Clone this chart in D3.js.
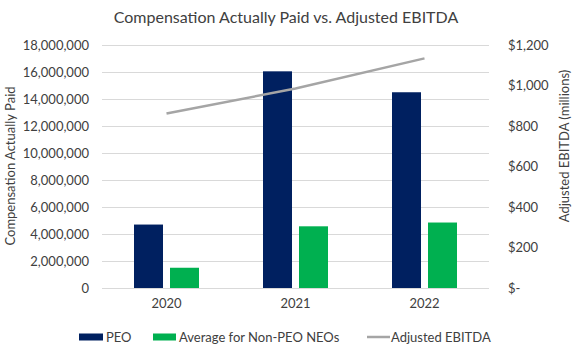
<!DOCTYPE html>
<html lang="en">
<head>
<meta charset="UTF-8">
<title>Compensation Actually Paid vs. Adjusted EBITDA</title>
<script src="https://d3js.org/d3.v7.min.js"></script>
<style>
  body { margin: 0; background: #fff; }
  svg text { font-family: Lato, "Open Sans", sans-serif; fill: #404040; }
</style>
</head>
<body>
<svg id="chart" width="576" height="345"></svg>
<script>
// chart data
const years = ["2020", "2021", "2022"];
const peoValues = [4700000, 16050000, 14500000];
const neoValues = [1500000, 4570000, 4850000];
const ebitdaValues = [862, 985, 1134];
const leftTicks = [0, 2000000, 4000000, 6000000, 8000000, 10000000, 12000000, 14000000, 16000000, 18000000];
const rightTicks = [0, 200, 400, 600, 800, 1000, 1200];

const navy = "#002060", green = "#00b050", grey = "#a5a5a5";

const svg = d3.select("#chart");
const margin = { top: 45, right: 87, bottom: 57, left: 102 };
const width = 576 - margin.left - margin.right;
const height = 345 - margin.top - margin.bottom;

const g = svg.append("g").attr("transform", `translate(${margin.left},${margin.top})`);

const x = d3.scaleBand().domain(years).range([0, width]);
const yLeft = d3.scaleLinear().domain([0, 18000000]).range([height, 0]);
const yRight = d3.scaleLinear().domain([0, 1200]).range([height, 0]);

// gridlines
g.selectAll(".grid").data(leftTicks).enter().append("line")
  .attr("x1", 0).attr("x2", width)
  .attr("y1", d => Math.round(yLeft(d)) + 0.5).attr("y2", d => Math.round(yLeft(d)) + 0.5)
  .attr("stroke", "#d9d9d9").attr("stroke-width", 1);

// left axis labels
g.selectAll(".ltick").data(leftTicks).enter().append("text")
  .attr("x", -13).attr("y", d => yLeft(d)).attr("dy", "0.35em")
  .attr("text-anchor", "end").attr("font-size", 13)
  .text(d => d3.format(",")(d));

// right axis labels
g.selectAll(".rtick").data(rightTicks).enter().append("text")
  .attr("x", width + 19).attr("y", d => yRight(d)).attr("dy", "0.35em")
  .attr("text-anchor", "start").attr("font-size", 13)
  .text(d => d === 0 ? "$-" : "$" + d3.format(",")(d));

// bars
const barW = 29, gap = 7;
const bars = g.selectAll(".grp").data(years).enter().append("g")
  .attr("transform", d => `translate(${x(d) + x.bandwidth() / 2},0)`);
bars.append("rect")
  .attr("x", -barW - gap / 2).attr("width", barW)
  .attr("y", (d, i) => yLeft(peoValues[i])).attr("height", (d, i) => height - yLeft(peoValues[i]))
  .attr("fill", navy);
bars.append("rect")
  .attr("x", gap / 2).attr("width", barW)
  .attr("y", (d, i) => yLeft(neoValues[i])).attr("height", (d, i) => height - yLeft(neoValues[i]))
  .attr("fill", green);

// EBITDA line
const line = d3.line()
  .x((d, i) => x(years[i]) + x.bandwidth() / 2)
  .y(d => yRight(d));
g.append("path").datum(ebitdaValues)
  .attr("d", line).attr("fill", "none")
  .attr("stroke", grey).attr("stroke-width", 2.5);

// x labels
g.selectAll(".xl").data(years).enter().append("text")
  .attr("x", d => x(d) + x.bandwidth() / 2).attr("y", height + 20)
  .attr("text-anchor", "middle").attr("font-size", 13)
  .text(d => d);

// title
svg.append("text").attr("x", 286).attr("y", 23)
  .attr("text-anchor", "middle").attr("font-size", 16)
  .text("Compensation Actually Paid vs. Adjusted EBITDA");

// axis titles
svg.append("text")
  .attr("transform", "translate(15,166) rotate(-90)")
  .attr("text-anchor", "middle").attr("font-size", 13)
  .text("Compensation Actually Paid");
svg.append("text")
  .attr("transform", "translate(569,146) rotate(-90)")
  .attr("text-anchor", "middle").attr("font-size", 13)
  .text("Adjusted EBITDA (millions)");

// legend
const legendY = 337;
const lg = svg.append("g");
lg.append("rect").attr("x", 79).attr("y", legendY - 3.5).attr("width", 24).attr("height", 7).attr("fill", navy);
lg.append("text").attr("x", 106).attr("y", legendY).attr("dy", "0.35em").attr("font-size", 13).text("PEO");
lg.append("rect").attr("x", 153).attr("y", legendY - 3.5).attr("width", 23).attr("height", 7).attr("fill", green);
lg.append("text").attr("x", 179).attr("y", legendY).attr("dy", "0.35em").attr("font-size", 13).text("Average for Non-PEO NEOs");
lg.append("line").attr("x1", 367).attr("x2", 390).attr("y1", legendY).attr("y2", legendY)
  .attr("stroke", grey).attr("stroke-width", 2.5);
lg.append("text").attr("x", 391).attr("y", legendY).attr("dy", "0.35em").attr("font-size", 13).text("Adjusted EBITDA");
</script>
</body>
</html>
